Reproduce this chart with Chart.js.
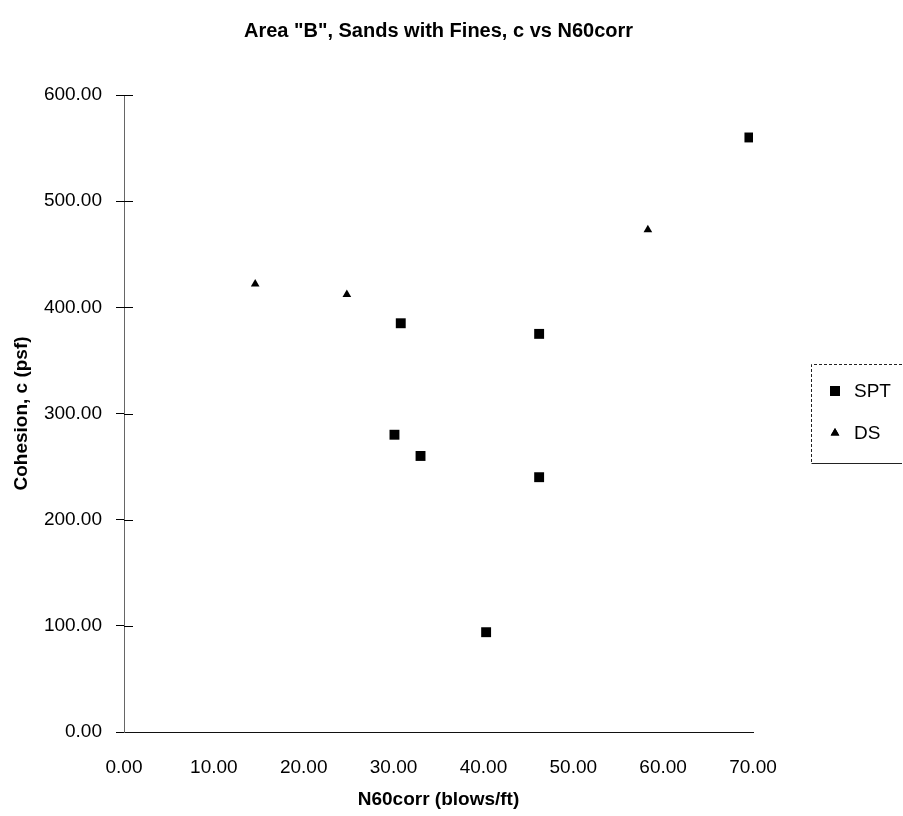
<!DOCTYPE html>
<html>
<head>
<meta charset="utf-8">
<title>Area B, Sands with Fines</title>
<script src="https://cdn.jsdelivr.net/npm/chart.js@4.4.1/dist/chart.umd.min.js"></script>
<style>
  html, body { margin: 0; padding: 0; background: #fff; }
  #wrap { width: 903px; height: 816px; }
</style>
</head>
<body>
<div id="wrap"><canvas id="canvas" width="903" height="816"></canvas></div>
<script>
// values
var sptN = [30.8, 46.2, 30.1, 33.0, 46.2, 40.3, 69.6];
var sptC = [385, 375, 280, 260, 240, 94, 560];
var dsN = [14.6, 24.8, 58.3];
var dsC = [422, 412, 473];

var xTicks = [0, 10, 20, 30, 40, 50, 60, 70];
var yTicks = [0, 100, 200, 300, 400, 500, 600];

var FONT = "'Liberation Sans', Arial, Helvetica, sans-serif";

function toPoints(xs, ys) {
  var pts = [];
  for (var i = 0; i < xs.length; i++) {
    pts.push({ x: xs[i], y: ys[i] });
  }
  return pts;
}

// y ticks in the original cross the axis, chart.js only draws the outer half
var crossTicks = {
  id: 'crossTicks',
  afterDraw: function(chart) {
    var ys = chart.scales.y;
    var ctx = chart.ctx;
    ctx.save();
    ctx.strokeStyle = '#000';
    ctx.lineWidth = 1;
    ys.ticks.forEach(function(t) {
      if (t.value === 0) return;
      var py = Math.round(ys.getPixelForValue(t.value)) + 0.5;
      ctx.beginPath();
      ctx.moveTo(ys.right, py);
      ctx.lineTo(ys.right + 9, py);
      ctx.stroke();
    });
    ctx.restore();
  }
};

// boxed legend on the right, like the old excel one
var boxLegend = {
  id: 'boxLegend',
  afterDraw: function(chart) {
    var ctx = chart.ctx;
    var left = 811, top = 364, right = 902, bottom = 463;
    ctx.save();
    ctx.strokeStyle = '#222';
    ctx.lineWidth = 1;
    ctx.setLineDash([3, 2]);
    ctx.beginPath();
    ctx.moveTo(right, top + 0.5);
    ctx.lineTo(left + 0.5, top + 0.5);
    ctx.lineTo(left + 0.5, bottom + 0.5);
    ctx.stroke();
    ctx.setLineDash([]);
    ctx.beginPath();
    ctx.moveTo(left + 0.5, bottom + 0.5);
    ctx.lineTo(right, bottom + 0.5);
    ctx.stroke();

    var rows = [391, 433];
    chart.data.datasets.forEach(function(ds, i) {
      Chart.helpers.drawPoint(ctx, {
        pointStyle: ds.pointStyle,
        radius: ds.pointRadius,
        borderWidth: 0
      }, 835, rows[i]);
      ctx.fillStyle = '#000';
      ctx.fill();
      ctx.font = '19px ' + FONT;
      ctx.textBaseline = 'middle';
      ctx.textAlign = 'left';
      ctx.fillText(ds.label, 854, rows[i] + 1);
    });
    ctx.restore();
  }
};

var ctx = document.getElementById('canvas').getContext('2d');
window.myChart = new Chart(ctx, {
  type: 'scatter',
  data: {
    datasets: [
      {
        label: 'SPT',
        data: toPoints(sptN, sptC),
        pointStyle: 'rect',
        pointRadius: 7,
        backgroundColor: '#000',
        borderColor: '#000',
        borderWidth: 0
      },
      {
        label: 'DS',
        data: toPoints(dsN, dsC),
        pointStyle: 'triangle',
        pointRadius: 5,
        backgroundColor: '#000',
        borderColor: '#000',
        borderWidth: 0
      }
    ]
  },
  options: {
    responsive: false,
    animation: false,
    layout: { padding: { top: 0, left: 0, right: 150, bottom: 0 } },
    plugins: {
      legend: { display: false },
      tooltip: { enabled: false },
      title: {
        display: true,
        text: 'Area "B", Sands with Fines, c vs N60corr',
        color: '#000',
        fullSize: false,
        font: { family: FONT, size: 20, weight: 'bold' },
        padding: { top: 19, bottom: 52 }
      }
    },
    scales: {
      x: {
        type: 'linear',
        min: 0,
        max: 70,
        afterBuildTicks: function(scale) {
          scale.ticks = xTicks.map(function(v) { return { value: v }; });
        },
        afterFit: function(scale) { scale.height = 84; },
        grid: { display: true, drawOnChartArea: false, drawTicks: false, color: '#000' },
        border: { display: true, color: '#111', width: 1, dash: [14, 3, 3, 3] },
        ticks: {
          color: '#000',
          padding: 24,
          maxRotation: 0,
          font: { family: FONT, size: 19 },
          callback: function(v) { return Number(v).toFixed(2); }
        },
        title: {
          display: true,
          text: 'N60corr (blows/ft)',
          color: '#000',
          font: { family: FONT, size: 19, weight: 'bold' },
          padding: { top: 6, bottom: 5 }
        }
      },
      y: {
        type: 'linear',
        min: 0,
        max: 600,
        afterBuildTicks: function(scale) {
          scale.ticks = yTicks.map(function(v) { return { value: v }; });
        },
        afterFit: function(scale) { scale.width = 124; },
        grid: { display: true, drawOnChartArea: false, drawTicks: true, tickLength: 8, color: '#000' },
        border: { display: true, color: '#666', width: 1, dash: [2, 4] },
        ticks: {
          color: '#000',
          padding: 14,
          font: { family: FONT, size: 19 },
          callback: function(v) { return Number(v).toFixed(2); }
        },
        title: {
          display: true,
          text: 'Cohesion, c (psf)',
          color: '#000',
          font: { family: FONT, size: 19, weight: 'bold' },
          padding: { top: 10, bottom: 4 }
        }
      }
    }
  },
  plugins: [crossTicks, boxLegend]
});
</script>
</body>
</html>
